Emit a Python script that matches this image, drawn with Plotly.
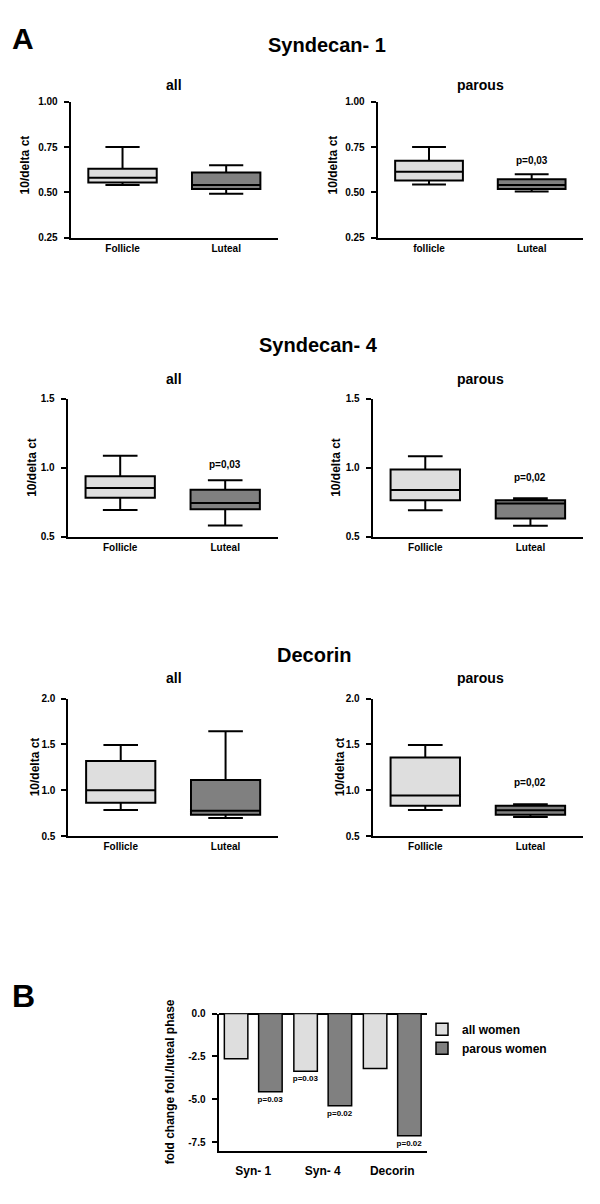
import plotly.graph_objects as go

# ---------------- DATA ----------------
# box stats: [lower whisker, q1, median, q3, upper whisker]
phases = ["Follicle", "Luteal"]
phases_parous_row1 = ["follicle", "Luteal"]

syn1_all_follicle = [0.541, 0.554, 0.580, 0.630, 0.750]
syn1_all_luteal = [0.492, 0.518, 0.541, 0.610, 0.650]
syn1_par_follicle = [0.543, 0.565, 0.614, 0.674, 0.750]
syn1_par_luteal = [0.505, 0.519, 0.541, 0.572, 0.600]

syn4_all_follicle = [0.694, 0.782, 0.852, 0.938, 1.086]
syn4_all_luteal = [0.581, 0.699, 0.744, 0.840, 0.909]
syn4_par_follicle = [0.692, 0.764, 0.838, 0.987, 1.083]
syn4_par_luteal = [0.579, 0.632, 0.740, 0.764, 0.778]

dec_all_follicle = [0.784, 0.863, 1.000, 1.320, 1.493]
dec_all_luteal = [0.698, 0.734, 0.777, 1.112, 1.644]
dec_par_follicle = [0.784, 0.831, 0.942, 1.356, 1.493]
dec_par_luteal = [0.709, 0.734, 0.781, 0.831, 0.849]

ticks_syn1 = [0.25, 0.50, 0.75, 1.00]
ticks_syn4 = [0.5, 1.0, 1.5]
ticks_dec = [0.5, 1.0, 1.5, 2.0]

# panel B
genes = ["Syn- 1", "Syn- 4", "Decorin"]
all_women = [-2.63, -3.37, -3.21]
parous_women = [-4.56, -5.38, -7.12]
all_women_p = ["", "p=0.03", ""]
parous_women_p = ["p=0.03", "p=0.02", "p=0.02"]
b_tickvals = [0.0, -2.5, -5.0, -7.5]
b_ticktext = ["0.0", "-2.5", "-5.0", "-7.5"]

# ---------------- STYLE ----------------
W, H = 600, 1204
FONT = "Liberation Sans, Arial, sans-serif"
LIGHT = "#dedede"
DARK = "#808080"


def px_x(x):
    return x / W


def px_y(y):
    return 1 - y / H


fig = go.Figure()

panels = [
    # (axis suffix, stats follicle, stats luteal, categories, x0, x1, y0, y1, range, ticks, fmt)
    ("", syn1_all_follicle, syn1_all_luteal, phases, 70.7, 278, 96.7, 234, [0.25, 1.0], ticks_syn1, ".2f"),
    ("2", syn1_par_follicle, syn1_par_luteal, phases_parous_row1, 377.7, 583, 96.7, 234, [0.25, 1.0], ticks_syn1, ".2f"),
    ("3", syn4_all_follicle, syn4_all_luteal, phases, 67.7, 277.7, 396.7, 536, [0.5, 1.5], ticks_syn4, ".1f"),
    ("4", syn4_par_follicle, syn4_par_luteal, phases, 372.7, 583, 396.7, 536, [0.5, 1.5], ticks_syn4, ".1f"),
    ("5", dec_all_follicle, dec_all_luteal, phases, 68.3, 278, 699.5, 838.5, [0.5, 2.0], ticks_dec, ".1f"),
    ("6", dec_par_follicle, dec_par_luteal, phases, 372.7, 583, 699.5, 838.5, [0.5, 2.0], ticks_dec, ".1f"),
]

tickfont = dict(family=FONT, size=10, color="black", weight="bold")

for suf, sf, sl, cats, x0, x1, y0, y1, rng, tv, fmt in panels:
    for stats, cat, col in ((sf, cats[0], LIGHT), (sl, cats[1], DARK)):
        fig.add_trace(go.Box(
            x=[cat], lowerfence=[stats[0]], q1=[stats[1]], median=[stats[2]],
            q3=[stats[3]], upperfence=[stats[4]],
            width=0.66, whiskerwidth=0.5, fillcolor=col,
            line=dict(color="black", width=2), boxpoints=False,
            orientation="v",
            xaxis="x" + suf, yaxis="y" + suf, showlegend=False, hoverinfo="skip",
        ))
    fig.update_layout(**{
        "xaxis" + suf: dict(
            domain=[px_x(x0), px_x(x1)], anchor="y" + suf, type="category",
            categoryorder="array", categoryarray=cats, range=[-0.5, 1.5],
            showline=True, linecolor="black", linewidth=2, ticks="",
            showgrid=False, zeroline=False, tickfont=dict(family=FONT, size=10, color="black", weight="bold"),
            ticklabelstandoff=0,
        ),
        "yaxis" + suf: dict(
            domain=[px_y(y1), px_y(y0)], anchor="x" + suf, range=rng,
            tickvals=tv, tickformat=fmt, ticks="outside", ticklen=5, tickwidth=2,
            tickcolor="black", showline=True, linecolor="black", linewidth=2,
            showgrid=False, zeroline=False, tickfont=tickfont, ticklabelstandoff=4,
        ),
    })

# panel B bars
fig.add_trace(go.Bar(
    x=genes, y=all_women, name="all women", marker=dict(color=LIGHT, line=dict(color="black", width=1.5)),
    text=all_women_p, textposition="outside", constraintext="none", cliponaxis=False,
    textfont=dict(family=FONT, size=8, color="black", weight="bold"),
    xaxis="x7", yaxis="y7", hoverinfo="skip",
))
fig.add_trace(go.Bar(
    x=genes, y=parous_women, name="parous women", marker=dict(color=DARK, line=dict(color="black", width=1.5)),
    text=parous_women_p, textposition="outside", constraintext="none", cliponaxis=False,
    textfont=dict(family=FONT, size=8, color="black", weight="bold"),
    xaxis="x7", yaxis="y7", hoverinfo="skip",
))
fig.update_layout(
    xaxis7=dict(domain=[px_x(218.5), px_x(427)], anchor="y7", showline=True, linecolor="black",
                linewidth=2, ticks="", showgrid=False, zeroline=False,
                tickfont=dict(family=FONT, size=12, color="black", weight="bold"), ticklabelstandoff=8),
    yaxis7=dict(domain=[px_y(1156.3), px_y(1017.7)], anchor="x7", range=[-8, 0],
                tickvals=b_tickvals, ticktext=b_ticktext, ticks="outside", ticklen=5, tickwidth=2,
                tickcolor="black", showline=True, linecolor="black", linewidth=2, showgrid=False,
                zeroline=True, zerolinecolor="black", zerolinewidth=2, tickfont=tickfont,
                ticklabelstandoff=4),
    bargap=0.013, bargroupgap=0.315,
)

# ---------------- TEXT ----------------
ann = []


def text(x, y, s, size, angle=0):
    ann.append(dict(x=px_x(x), y=px_y(y), xref="paper", yref="paper", text=s, showarrow=False,
                    xanchor="center", yanchor="middle", textangle=angle,
                    font=dict(family=FONT, size=size, color="black", weight="bold")))


text(23, 32.5, "A", 30)
text(23, 999.5, "B", 32)
text(327.5, 39.5, "Syndecan- 1", 20)
text(318, 342, "Syndecan- 4", 20)
text(314, 656, "Decorin", 20)
for y in (80, 377, 679):
    text(174, y, "all", 14)
    text(480, y, "parous", 14)
text(25, 161, "10/delta ct", 12, -90)
text(333, 161, "10/delta ct", 12, -90)
text(32, 466.5, "10/delta ct", 12, -90)
text(336, 466.5, "10/delta ct", 12, -90)
text(35, 769, "10/delta ct", 12, -90)
text(340, 769, "10/delta ct", 12, -90)
text(170, 1087, "fold change foll./luteal phase", 12, -90)

# p-values above the luteal boxes (data coordinates)
for xr, yr, yv, s in (("x2", "y2", 0.676, "p=0,03"), ("x3", "y3", 1.026, "p=0,03"),
                      ("x4", "y4", 0.932, "p=0,02"), ("x6", "y6", 1.086, "p=0,02")):
    ann.append(dict(x="Luteal", y=yv, xref=xr, yref=yr, text=s, showarrow=False,
                    xanchor="center", yanchor="middle",
                    font=dict(family=FONT, size=10, color="black", weight="bold")))

fig.update_layout(
    annotations=ann,
    width=W, height=H, margin=dict(l=0, r=0, t=0, b=0, pad=0),
    paper_bgcolor="white", plot_bgcolor="white",
    showlegend=True,
    legend=dict(x=px_x(422), y=px_y(1019), xanchor="left", yanchor="top",
                font=dict(family=FONT, size=12, color="black", weight="bold"),
                bgcolor="rgba(0,0,0,0)", tracegroupgap=0, itemclick=False),
    font=dict(family=FONT, color="black"),
)

fig.write_html("out.html", config={"displayModeBar": False},
               post_script="document.body.style.margin='0px';document.body.style.padding='0px';")
